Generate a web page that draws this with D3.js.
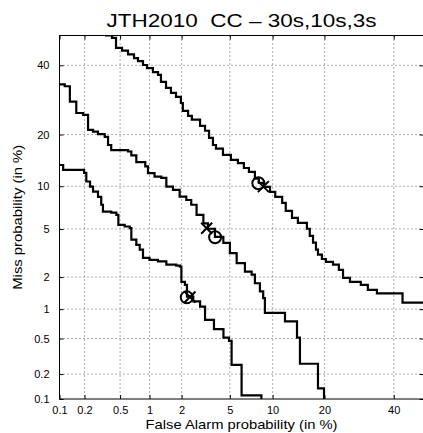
<!DOCTYPE html>
<html>
<head>
<meta charset="utf-8">
<script src="https://cdn.jsdelivr.net/npm/d3@7"></script>
<style>
  body { margin: 0; background: #fff; }
  text { font-family: "Liberation Sans", Arial, Helvetica, sans-serif; fill: #000; white-space: pre; }
</style>
</head>
<body>
<div id="container"></div>
<script>
const title = "JTH2010  CC \u2013 30s,10s,3s"
const xLabel = "False Alarm probability (in %)"
const yLabel = "Miss probability (in %)"
const tickValues = [0.1, 0.2, 0.5, 1, 2, 5, 10, 20, 40]
const axisRange = [0.1, 50]

// [false alarm %, miss %] corners of each DET staircase
const curve3s = [[0.343, 50], [0.409, 49.2], [0.452, 45.8], [0.524, 44.9], [0.606, 43.6], [0.699, 42.4], [0.767, 41.4],
    [0.862, 40.1], [0.944, 39.1], [1.08, 37.8], [1.21, 36.9], [1.29, 34.7], [1.44, 32.8], [1.60, 31.3], [1.78, 30.1],
    [1.97, 28.3], [2.05, 26.1], [2.28, 24.7], [2.46, 23.7], [2.89, 22.1], [3.18, 20.9], [3.43, 19.2], [3.69, 17.6],
    [3.90, 16.8], [4.43, 15.5], [5.10, 14.5], [5.75, 13.9], [6.36, 13.0], [6.91, 12.3], [7.61, 11.2], [8.1, 10.5],
    [8.77, 9.9], [9.62, 9.19], [10.4, 8.51], [11.5, 7.74], [12.1, 6.8], [13.2, 6.06], [14.3, 5.55], [16.1, 5.02],
    [16.7, 4.42], [17.4, 3.91], [18.05, 3.43], [18.5, 3.12], [19.4, 2.87], [20.35, 2.72], [22.1, 2.57], [23.6, 2.32],
    [24.7, 1.97], [26.6, 1.81], [29.7, 1.70], [31.8, 1.53], [34.6, 1.42], [42.9, 1.16], [50, 1.16]]

const curve10s = [[0.1, 33.9], [0.116, 33.3], [0.134, 28.7], [0.160, 25.5], [0.193, 25.0], [0.220, 21.1], [0.251, 20.7],
    [0.286, 20.1], [0.340, 19.45], [0.370, 17.6], [0.401, 16.5], [0.606, 16.2], [0.656, 15.4], [0.738, 14.1],
    [0.908, 13.3], [0.966, 12.1], [1.12, 11.5], [1.30, 11.3], [1.45, 9.95], [1.67, 9.46], [1.92, 8.55], [2.20, 8.1],
    [2.43, 7.51], [2.70, 6.37], [3.08, 5.52], [3.36, 5.02], [3.83, 4.35], [4.46, 3.89], [5.01, 3.22], [5.63, 2.65],
    [6.47, 2.24], [7.22, 2.10], [7.61, 1.76], [8.24, 1.48], [8.67, 1.28], [8.90, 0.917], [11.97, 0.754],
    [14.13, 0.511], [14.7, 0.263], [18.5, 0.135], [19.9, 0.1]]

const curve30s = [[0.1, 13.55], [0.111, 12.68], [0.198, 12.16], [0.210, 10.73], [0.232, 9.95], [0.251, 9.23],
    [0.286, 8.51], [0.311, 7.51], [0.325, 6.72], [0.401, 6.61], [0.456, 6.37], [0.479, 5.37], [0.559, 5.22],
    [0.632, 5.08], [0.656, 4.13], [0.738, 3.76], [0.799, 3.43], [0.862, 2.93], [1.00, 2.82], [1.207, 2.74],
    [1.45, 2.57], [1.79, 2.52], [1.93, 2.47], [1.99, 1.81], [2.14, 1.70], [2.23, 1.32], [2.53, 1.19], [2.89, 1.059],
    [3.18, 0.783], [3.76, 0.628], [4.47, 0.511], [4.93, 0.471], [5.16, 0.256], [6.12, 0.111], [8.43, 0.1]]

// min cost (circle) and actual cost (cross) operating points
const minCost = [[8.04, 10.46], [3.84, 4.32], [2.22, 1.30]]
const actCost = [[8.69, 9.94], [3.28, 5.07], [2.37, 1.31]]

const specs = { width: 423, height: 433, left: 59.5, right: 423.6, top: 35.5, bottom: 399 }

// inverse of the normal cdf (Acklam's approximation)
const probit = p => {
    const a = [-39.69683028665376, 220.9460984245205, -275.9285104469687, 138.3577518672690, -30.66479806614716, 2.506628277459239]
    const b = [-54.47609879822406, 161.5858368580409, -155.6989798598866, 66.80131188771972, -13.28068155288572]
    const c = [-0.007784894002430293, -0.3223964580411365, -2.400758277161838, -2.549732539343734, 4.374664141464968, 2.938163982698783]
    const d = [0.007784695709041462, 0.3224671290700398, 2.445134137142996, 3.754408661907416]
    const tail = q => (((((c[0] * q + c[1]) * q + c[2]) * q + c[3]) * q + c[4]) * q + c[5]) /
        ((((d[0] * q + d[1]) * q + d[2]) * q + d[3]) * q + 1)
    if (p < 0.02425) return tail(Math.sqrt(-2 * Math.log(p)))
    if (p > 1 - 0.02425) return -tail(Math.sqrt(-2 * Math.log(1 - p)))
    const q = p - 0.5, r = q * q
    return (((((a[0] * r + a[1]) * r + a[2]) * r + a[3]) * r + a[4]) * r + a[5]) * q /
        (((((b[0] * r + b[1]) * r + b[2]) * r + b[3]) * r + b[4]) * r + 1)
}
const dev = pct => probit(pct / 100)

const svg = d3.select('#container')
    .append('svg').attr('width', specs.width).attr('height', specs.height)

const xScale = d3.scaleLinear().domain(axisRange.map(dev)).range([specs.left, specs.right])
const yScale = d3.scaleLinear().domain(axisRange.map(dev)).range([specs.bottom, specs.top])
const ticks = tickValues.map(dev)
const label = (d, i) => tickValues[i]

// dotted grid
const grid = svg.append('g')
    .attr('stroke', '#333').attr('stroke-width', 0.8).attr('stroke-dasharray', '1,3')
grid.selectAll('.gx').data(ticks.slice(1)).enter().append('line')
    .attr('x1', d => xScale(d)).attr('x2', d => xScale(d))
    .attr('y1', specs.top).attr('y2', specs.bottom)
grid.selectAll('.gy').data(ticks.slice(1)).enter().append('line')
    .attr('y1', d => yScale(d)).attr('y2', d => yScale(d))
    .attr('x1', specs.left).attr('x2', specs.right)

// axes with inward ticks
const styleAxis = g => {
    g.select('.domain').remove()
    g.selectAll('.tick line').attr('stroke', '#000')
    g.selectAll('.tick text').attr('font-size', 11)
}
svg.append('g').attr('transform', `translate(0,${specs.bottom})`)
    .call(d3.axisBottom(xScale).tickValues(ticks).tickFormat(label).tickSizeInner(-4).tickSizeOuter(0).tickPadding(7))
    .call(styleAxis)
svg.append('g').attr('transform', `translate(${specs.left},0)`)
    .call(d3.axisLeft(yScale).tickValues(ticks).tickFormat(label).tickSizeInner(-4).tickSizeOuter(0).tickPadding(10))
    .call(styleAxis)
svg.append('g').attr('transform', `translate(0,${specs.top})`)
    .call(d3.axisTop(xScale).tickValues(ticks).tickFormat('').tickSizeInner(-4).tickSizeOuter(0))
    .call(styleAxis)
svg.append('g').attr('transform', `translate(${specs.right},0)`)
    .call(d3.axisRight(yScale).tickValues(ticks).tickFormat('').tickSizeInner(-4).tickSizeOuter(0))
    .call(styleAxis)

svg.append('rect')
    .attr('x', specs.left).attr('y', specs.top)
    .attr('width', specs.right - specs.left).attr('height', specs.bottom - specs.top)
    .attr('fill', 'none').attr('stroke', '#000').attr('stroke-width', 1)

// DET curves
svg.append('clipPath').attr('id', 'plot')
    .append('rect')
    .attr('x', specs.left).attr('y', specs.top)
    .attr('width', specs.right - specs.left).attr('height', specs.bottom - specs.top)

const line = d3.line()
    .x(d => xScale(dev(d[0])))
    .y(d => yScale(dev(d[1])))
    .curve(d3.curveStepAfter)

const plot = svg.append('g').attr('clip-path', 'url(#plot)')
plot.selectAll('.det')
    .data([curve3s, curve10s, curve30s])
    .enter()
    .append('path')
    .attr('class', 'det')
    .attr('d', line)
    .attr('fill', 'none')
    .attr('stroke', '#000')
    .attr('stroke-width', 2.2)
    .attr('stroke-linejoin', 'miter')

plot.selectAll('.mincost')
    .data(minCost)
    .enter()
    .append('circle')
    .attr('class', 'mincost')
    .attr('cx', d => xScale(dev(d[0])))
    .attr('cy', d => yScale(dev(d[1])))
    .attr('r', 6)
    .attr('fill', 'none')
    .attr('stroke', '#000')
    .attr('stroke-width', 2)

plot.selectAll('.actcost')
    .data(actCost)
    .enter()
    .append('path')
    .attr('class', 'actcost')
    .attr('transform', d => `translate(${xScale(dev(d[0]))},${yScale(dev(d[1]))})`)
    .attr('d', 'M-5.5,-5.5L5.5,5.5M-5.5,5.5L5.5,-5.5')
    .attr('stroke', '#000')
    .attr('stroke-width', 2)

// title and axis labels
const midX = (specs.left + specs.right) / 2
const midY = (specs.top + specs.bottom) / 2
svg.append('text')
    .attr('x', midX).attr('y', 27)
    .attr('text-anchor', 'middle')
    .attr('font-size', 19)
    .attr('textLength', 270).attr('lengthAdjust', 'spacingAndGlyphs')
    .text(title)
svg.append('text')
    .attr('x', midX).attr('y', 429)
    .attr('text-anchor', 'middle')
    .attr('font-size', 13)
    .attr('textLength', 192).attr('lengthAdjust', 'spacingAndGlyphs')
    .text(xLabel)
svg.append('text')
    .attr('transform', `translate(22,${midY}) rotate(-90)`)
    .attr('text-anchor', 'middle')
    .attr('font-size', 13)
    .attr('textLength', 145).attr('lengthAdjust', 'spacingAndGlyphs')
    .text(yLabel)
</script>
</body>
</html>
